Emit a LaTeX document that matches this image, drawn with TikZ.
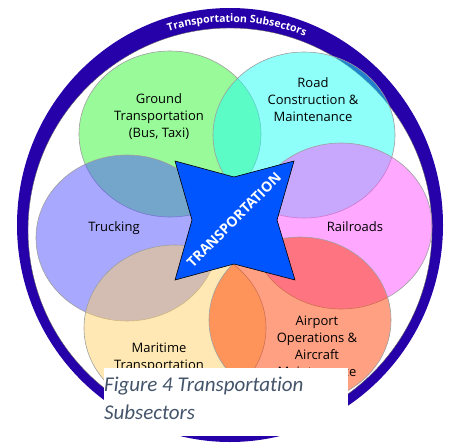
\documentclass[tikz,border=0pt]{standalone}
\usepackage{fontspec}
\setmainfont{Open Sans}
\newfontfamily\capfont[Ligatures=NoCommon]{Carlito}
\usetikzlibrary{shapes.geometric,decorations.text}
\definecolor{ringblue}{RGB}{38,0,168}
\definecolor{hubblue}{RGB}{0,85,255}
\definecolor{captiongray}{RGB}{68,84,106}
\definecolor{groundc}{RGB}{49,245,49}
\definecolor{roadc}{RGB}{31,255,245}
\definecolor{railc}{RGB}{255,81,255}
\definecolor{truckc}{RGB}{81,81,255}
\definecolor{maritimec}{RGB}{255,209,103}
\definecolor{airc}{RGB}{255,65,5}
\begin{document}
\begin{tikzpicture}[
    x=1pt, y=-1pt,
    sector/.style={ellipse, draw=gray!75, line width=0.6pt, fill opacity=0.5, minimum width=182pt, minimum height=166pt, inner sep=0pt},
    sublabel/.style={align=center, text=black, font=\fontsize{13}{17}\selectfont},
    caption/.style={anchor=base west, inner sep=0pt, text=captiongray, font=\capfont\itshape\fontsize{21}{24}\selectfont}
]
    \useasboundingbox (0,0) rectangle (449,442);

    % Outer ring
    \fill[ringblue, even odd rule] (230,225) ellipse [x radius=213, y radius=217]
        (230,230) ellipse [x radius=202, y radius=202];
    \draw[black!60, line width=0.4pt] (230,230) ellipse [x radius=202, y radius=202];
    \path[decorate, decoration={text along path, text align=center, text color=white,
        text={|\bfseries\fontsize{10.5}{11}\selectfont|Transportation Subsectors}}]
        (230,225) ++(227:203) arc[start angle=227, end angle=317, radius=203];

    % Subsectors
    \node[sector, fill=groundc] (ground) at (170,134) {};
    \node[sector, fill=roadc] (road) at (304,135) {};
    \node[sector, fill=railc] (rail) at (341,226) {};
    \node[sector, fill=truckc] (truck) at (127,238) {};
    \node[sector, fill=maritimec] (maritime) at (175,328) {};
    \node[sector, fill=airc] (air) at (300,320) {};

    % Hub star
    \draw[fill=hubblue, line width=0.6pt, line join=miter]
        (175,161) -- (234,177) -- (294,161) -- (277,220) -- (295,280)
        -- (234,264) -- (175,280) -- (192,220) -- cycle;
    \node[rotate=45, text=white, font=\bfseries\fontsize{14}{14}\selectfont] (hub) at (234,220) {TRANSPORTATION};

    % Labels
    \node[sublabel] (groundtxt) at (159,117) {Ground\\Transportation\\(Bus, Taxi)};
    \node[sublabel] (roadtxt) at (313,100) {Road\\Construction \&\\Maintenance};
    \node[sublabel] (trucktxt) at (114,228) {Trucking};
    \node[sublabel] (railtxt) at (355,227) {Railroads};
    \node[sublabel] (maritimetxt) at (159,358) {Maritime\\Transportation};
    \node[sublabel] (airtxt) at (317,346) {Airport\\Operations \&\\Aircraft\\Maintenance};

    % Caption
    \fill[white] (104,368) rectangle (348,436);
    \node[caption] (cap1) at (104,391) {Figure 4 Transportation};
    \node[caption] (cap2) at (104,419) {Subsectors};
\end{tikzpicture}
\end{document}
